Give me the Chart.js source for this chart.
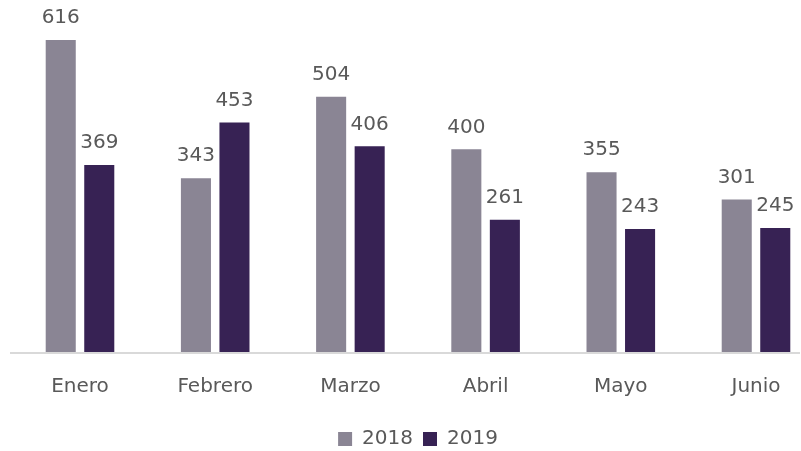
<!DOCTYPE html>
<html>
<head>
<meta charset="utf-8">
<script src="https://cdn.jsdelivr.net/npm/chart.js@4.4.0/dist/chart.umd.min.js"></script>
<style>
  html, body { margin: 0; padding: 0; background: #fff; }
  #wrap { width: 801px; height: 451px; position: relative; }
</style>
</head>
<body>
<div id="wrap"><canvas id="chart"></canvas></div>
<script>
const months = ['Enero', 'Febrero', 'Marzo', 'Abril', 'Mayo', 'Junio'];
const values2018 = [616, 343, 504, 400, 355, 301];
const values2019 = [369, 453, 406, 261, 243, 245];

const fontFamily = "'DejaVu Sans', sans-serif";
const textColor = '#595959';

// value labels above the bars + full-width baseline
const extras = {
    id: 'extras',
    afterDatasetsDraw(chart) {
        const c = chart.ctx;
        const area = chart.chartArea;
        c.save();
        c.strokeStyle = '#d9d9d9';
        c.lineWidth = 2;
        c.beginPath();
        c.moveTo(10, area.bottom + 1);
        c.lineTo(800, area.bottom + 1);
        c.stroke();
        c.fillStyle = textColor;
        c.font = '20px ' + fontFamily;
        c.textAlign = 'center';
        c.textBaseline = 'bottom';
        chart.data.datasets.forEach((ds, i) => {
            chart.getDatasetMeta(i).data.forEach((bar, j) => {
                c.fillText(ds.data[j], bar.x, bar.y - 12);
            });
        });
        c.restore();
    }
};

new Chart(document.getElementById('chart'), {
    type: 'bar',
    data: {
        labels: months,
        datasets: [
            { label: '2018', data: values2018, backgroundColor: '#8a8594', clip: false },
            { label: '2019', data: values2019, backgroundColor: '#372254', clip: false }
        ]
    },
    options: {
        responsive: true,
        maintainAspectRatio: false,
        animation: false,
        categoryPercentage: 0.57,
        barPercentage: 0.78,
        layout: { padding: { left: 80, right: 45, top: 6, bottom: -8 } },
        scales: {
            x: {
                offset: false,
                grid: { display: false },
                border: { display: false },
                ticks: { color: textColor, font: { size: 20, family: fontFamily }, padding: 15 },
                afterFit(scale) { scale.height += 5; }
            },
            y: {
                display: false,
                min: 0,
                max: 683
            }
        },
        plugins: {
            legend: {
                position: 'bottom',
                labels: {
                    color: textColor,
                    font: { size: 20, family: fontFamily },
                    boxWidth: 14,
                    boxHeight: 14,
                    padding: 10
                }
            },
            tooltip: { enabled: false }
        }
    },
    plugins: [extras]
});
</script>
</body>
</html>
